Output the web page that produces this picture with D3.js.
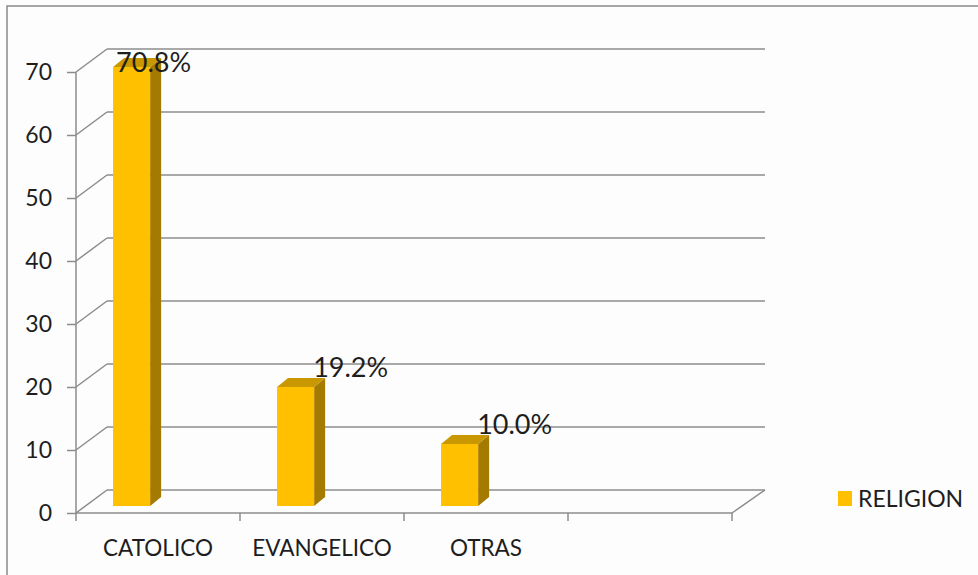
<!DOCTYPE html>
<html>
<head>
<meta charset="utf-8">
<script src="https://cdn.jsdelivr.net/npm/d3@7"></script>
<style>
  html, body { margin: 0; padding: 0; background: #fdfdfd; }
  svg { display: block; }
  text { font-family: Lato, "Open Sans", sans-serif; fill: #1e1e1e; }
</style>
</head>
<body>
<svg id="chart" width="978" height="575"></svg>
<script>
// Religion distribution (percent)
const categories = ["CATOLICO", "EVANGELICO", "OTRAS"];
const values = [70.8, 19.2, 10.0];
const valueLabels = ["70.8%", "19.2%", "10.0%"];
const yTicks = [0, 10, 20, 30, 40, 50, 60, 70];
const seriesName = "RELIGION";

(function () {
const W = 978, H = 575;
const svg = d3.select("#chart");

// plot frame (front plane)
const pLeft = 76, pRight = 732, pBottom = 513, pTop = 72;
const DX = 31, DY = -23;          // depth offset of the back wall
const slots = 4;                  // category slots on the axis (last is empty)
const gridColor = "#8c8c8c";
const front = "#ffc000", side = "#a47a00", topFace = "#c99700";

svg.append("rect").attr("x", 0).attr("y", 0).attr("width", W).attr("height", H).attr("fill", "#fdfdfd");
// chart area border
svg.append("rect").attr("x", 7).attr("y", 6).attr("width", W + 10).attr("height", H + 10)
  .attr("fill", "none").attr("stroke", "#8a8a8a").attr("stroke-width", 1.5);

const y = d3.scaleLinear().domain([0, 70]).range([pBottom, pTop]);
const x = d3.scaleBand().domain(d3.range(slots)).range([pLeft, pRight]);

const g = svg.append("g");

// back wall gridlines + left side wall diagonals
yTicks.forEach(t => {
  const yy = y(t);
  g.append("line").attr("x1", pLeft + DX).attr("x2", pRight + DX + 2)
    .attr("y1", yy + DY).attr("y2", yy + DY)
    .attr("stroke", gridColor).attr("stroke-width", 1.5);
  g.append("line").attr("x1", pLeft).attr("y1", yy).attr("x2", pLeft + DX).attr("y2", yy + DY)
    .attr("stroke", gridColor).attr("stroke-width", 1.5);
});

// floor front edge and right diagonal
g.append("line").attr("x1", pLeft).attr("x2", pRight).attr("y1", pBottom).attr("y2", pBottom)
  .attr("stroke", gridColor).attr("stroke-width", 1.5);
g.append("line").attr("x1", pRight).attr("y1", pBottom).attr("x2", pRight + DX + 2).attr("y2", pBottom + DY)
  .attr("stroke", gridColor).attr("stroke-width", 1.5);

// vertical value axis
g.append("line").attr("x1", pLeft).attr("x2", pLeft).attr("y1", y(70)).attr("y2", pBottom)
  .attr("stroke", gridColor).attr("stroke-width", 1.5);

// y axis ticks and labels
const yAxis = d3.axisLeft(y).tickValues(yTicks).tickSize(9).tickPadding(15).tickFormat(d3.format("d"));
const ya = svg.append("g").attr("transform", `translate(${pLeft},0)`).call(yAxis);
ya.select(".domain").remove();
ya.selectAll(".tick line").attr("stroke", gridColor).attr("stroke-width", 1.5);
ya.selectAll(".tick text").style("font-size", "23px").attr("fill", "#1e1e1e")
  .style("font-family", "Lato, 'Open Sans', sans-serif");

// category ticks on the floor edge
d3.range(slots + 1).forEach(i => {
  const xx = pLeft + i * x.step();
  g.append("line").attr("x1", xx).attr("x2", xx).attr("y1", pBottom).attr("y2", pBottom + 8)
    .attr("stroke", gridColor).attr("stroke-width", 1.5);
});

// category labels
svg.selectAll(".cat").data(categories).join("text")
  .attr("class", "cat")
  .attr("x", (d, i) => x(i) + x.bandwidth() / 2)
  .attr("y", 548).attr("dy", "0.35em")
  .attr("text-anchor", "middle").style("font-size", "22.5px")
  .text(d => d);

// bars sit a little way into the floor
const bd = { dx: 9, dy: -7 };       // offset of the bar's front face
const bdepth = { dx: 11, dy: -9 };  // bar depth
const yBar = d3.scaleLinear().domain([0, 70]).range([pBottom + bd.dy, pBottom + bd.dy - 434]);
const barW = x.bandwidth() * 0.226;
const barX = i => x(i) + x.bandwidth() * 0.226;

const bars = svg.append("g").selectAll("g").data(values).join("g");
bars.each(function (v, i) {
  const gb = d3.select(this);
  const x0 = barX(i), x1 = x0 + barW;
  const y0 = yBar(0), y1 = yBar(v);
  // side face
  gb.append("path").attr("fill", side)
    .attr("d", `M${x1},${y1} L${x1 + bdepth.dx},${y1 + bdepth.dy} L${x1 + bdepth.dx},${y0 + bdepth.dy} L${x1},${y0} Z`);
  // top face
  gb.append("path").attr("fill", topFace)
    .attr("d", `M${x0},${y1} L${x0 + bdepth.dx},${y1 + bdepth.dy} L${x1 + bdepth.dx},${y1 + bdepth.dy} L${x1},${y1} Z`);
  // front face
  gb.append("rect").attr("fill", front).attr("x", x0).attr("y", y1).attr("width", barW).attr("height", y0 - y1);
});

// value labels: above the bar's right edge, moved inside when near the top of the plot
svg.selectAll(".val").data(values).join("text")
  .attr("class", "val")
  .each(function (v, i) {
    const x1 = barX(i) + barW;
    let lx = x1 - 1, ly = yBar(v) - 19;
    if (ly < pTop) { lx = barX(i) + 3; ly = yBar(v) - 4; }
    d3.select(this).attr("x", lx).attr("y", ly).attr("dy", "0.35em");
  })
  .style("font-size", "27px")
  .text((d, i) => valueLabels[i]);

// legend
const lg = svg.append("g").attr("transform", "translate(838,491)");
lg.append("rect").attr("width", 14).attr("height", 15).attr("fill", front);
lg.append("text").attr("x", 20).attr("y", 7.5).attr("dy", "0.35em").style("font-size", "23px").text(seriesName);
})();
</script>
</body>
</html>
